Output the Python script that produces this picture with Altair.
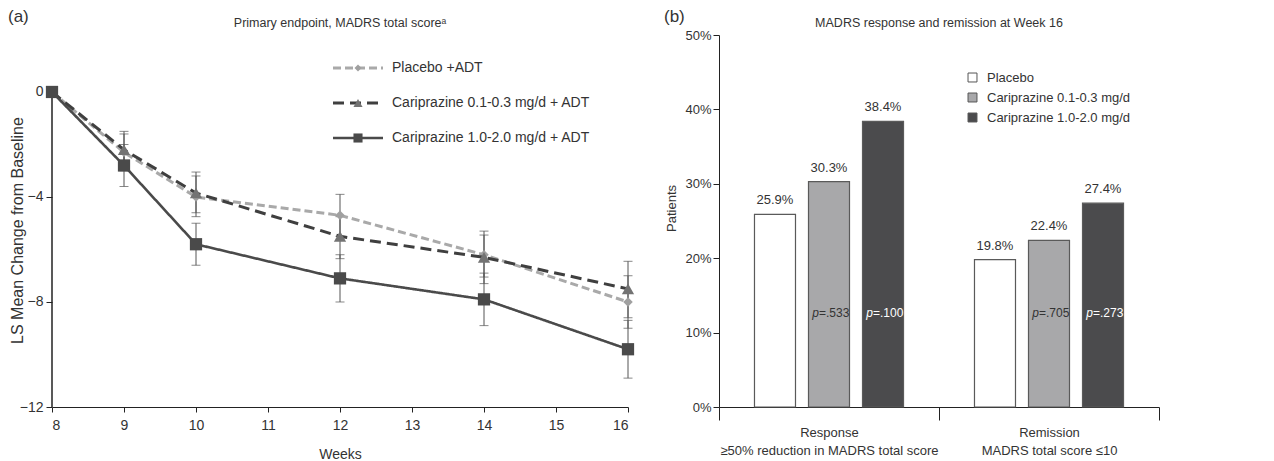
import altair as alt
import pandas as pd

FONT = "Liberation Sans"
TXT = "#333333"
FSA = 14   # panel (a) text size
FSB = 13   # panel (b) text size

# ---------------- Panel (a) data ----------------
weeks = [8, 9, 10, 12, 14, 16]
series_names = ["Placebo +ADT", "Cariprazine 0.1-0.3 mg/d + ADT", "Cariprazine 1.0-2.0 mg/d + ADT"]
placebo_mean = [0.0, -2.3, -4.0, -4.7, -6.2, -8.0]
placebo_upper = [None, -1.6, -3.2, -3.9, -5.3, -7.0]
placebo_lower = [None, -3.0, -4.75, -5.5, -7.05, -9.0]
low_mean = [0.0, -2.2, -3.85, -5.5, -6.3, -7.5]
low_upper = [None, -1.5, -3.05, -4.75, -5.45, -6.45]
low_lower = [None, -2.9, -4.6, -6.35, -7.3, -8.6]
high_mean = [0.0, -2.8, -5.8, -7.1, -7.9, -9.8]
high_upper = [None, -2.0, -5.0, -6.2, -6.9, -8.7]
high_lower = [None, -3.6, -6.6, -8.0, -8.9, -10.9]

# ---------------- Panel (b) data ----------------
outcomes = ["Response|≥50% reduction in MADRS total score", "Remission|MADRS total score ≤10"]
groups = ["Placebo", "Cariprazine 0.1-0.3 mg/d", "Cariprazine 1.0-2.0 mg/d"]
response_pct = [25.9, 30.3, 38.4]
remission_pct = [19.8, 22.4, 27.4]
response_p = ["", ".533", ".100"]
remission_p = ["", ".705", ".273"]
p_label_level = 12.6

# ---------------- styles ----------------
line_colors = ["#a9a9a9", "#3f3f3f", "#4a4a4a"]
marker_colors = ["#a0a0a0", "#737373", "#4a4a4a"]
dashes = [[8, 4], [11, 6], [1, 0]]
widths = [3, 3, 2.6]
shapes = ["diamond", "triangle-up", "square"]
msizes = [90, 150, 150]
bar_fills = ["#ffffff", "#a8a8aa", "#4b4b4d"]
p_colors = ["#333333", "#333333", "#ffffff"]

W1, H = 576, 372
W2 = 440
YTOP = 2.17

rows = []
for name, m, lo, hi in zip(series_names,
                           [placebo_mean, low_mean, high_mean],
                           [placebo_lower, low_lower, high_lower],
                           [placebo_upper, low_upper, high_upper]):
    for w, a, b, c in zip(weeks, m, lo, hi):
        rows.append({"week": w, "series": name, "mean": a, "lower": b, "upper": c})
df_a = pd.DataFrame(rows)

xa = alt.X("week:Q", scale=alt.Scale(domain=[8, 16], nice=False),
           axis=alt.Axis(values=list(range(8, 17)), title="Weeks", grid=False, tickSize=5,
                         labelPadding=6, titlePadding=15, domainColor="#222", tickColor="#222",
                         labelFontSize=FSA, titleFontSize=FSA))
ya = alt.Y("mean:Q", scale=alt.Scale(domain=[-12, YTOP], nice=False, zero=False),
           axis=alt.Axis(values=[0, -4, -8, -12], title="LS Mean Change from Baseline", grid=False,
                         domain=False, tickSize=6, tickColor="#222", labelPadding=3,
                         labelFontSize=FSA, titleFontSize=16,
                         titleX=-35, titleY=195, titleBaseline="middle", titleAngle=-90))

layers_a = []
layers_a.append(alt.Chart(pd.DataFrame({"a": [0], "b": [-12]})).mark_rule(color="#222", strokeWidth=1.5)
                .encode(x=alt.value(0), y=alt.Y("a:Q", scale=alt.Scale(domain=[-12, YTOP], nice=False)), y2="b:Q"))
for i, name in enumerate(series_names):
    err = df_a[df_a.series == name].dropna()
    layers_a.append(alt.Chart(err).mark_rule(color="#555", strokeWidth=1)
                    .encode(x=xa, y=alt.Y("lower:Q"), y2="upper:Q"))
    layers_a.append(alt.Chart(err).mark_tick(color="#555", thickness=1, size=9, orient="horizontal")
                    .encode(x=xa, y=alt.Y("lower:Q")))
    layers_a.append(alt.Chart(err).mark_tick(color="#555", thickness=1, size=9, orient="horizontal")
                    .encode(x=xa, y=alt.Y("upper:Q")))
for i, name in enumerate(series_names):
    sub = df_a[df_a.series == name]
    layers_a.append(alt.Chart(sub).mark_line(color=line_colors[i], strokeDash=dashes[i], strokeWidth=widths[i])
                    .encode(x=xa, y=ya))
    layers_a.append(alt.Chart(sub).mark_point(shape=shapes[i], filled=True, opacity=1, color=marker_colors[i],
                                              size=msizes[i])
                    .encode(x=xa, y=alt.Y("mean:Q")))

# legend (panel a)
leg_y = [33, 68, 103]
leg_df = pd.DataFrame({"series": series_names})
for i, name in enumerate(series_names):
    d = leg_df.iloc[[i]]
    layers_a.append(alt.Chart(d).mark_rule(color=line_colors[i], strokeDash=dashes[i], strokeWidth=widths[i])
                    .encode(x=alt.value(281), x2=alt.value(331), y=alt.value(leg_y[i])))
    layers_a.append(alt.Chart(d).mark_point(shape=shapes[i], filled=True, opacity=1, color=marker_colors[i],
                                            size=msizes[i] * 0.55)
                    .encode(x=alt.value(306), y=alt.value(leg_y[i])))
    layers_a.append(alt.Chart(d).mark_text(align="left", baseline="middle", fontSize=FSA, font=FONT, color=TXT)
                    .encode(x=alt.value(340), y=alt.value(leg_y[i]), text="series:N"))

title_df = pd.DataFrame({"t": ["Primary endpoint, MADRS total scoreᵃ"], "p": ["(a)"]})
layers_a.append(alt.Chart(title_df).mark_text(align="center", baseline="middle", fontSize=12.5, font=FONT, color=TXT)
                .encode(x=alt.value(W1 / 2), y=alt.value(-12), text="t:N"))
layers_a.append(alt.Chart(title_df).mark_text(align="left", baseline="middle", fontSize=17, font=FONT, color=TXT)
                .encode(x=alt.value(-44), y=alt.value(-18), text="p:N"))

left = alt.layer(*layers_a).properties(width=W1, height=H)

# ---------------- Panel (b) ----------------
rows_b = []
for o, vals, ps in zip(outcomes, [response_pct, remission_pct], [response_p, remission_p]):
    for g, v, p, pc in zip(groups, vals, ps, p_colors):
        rows_b.append({"outcome": o, "group": g, "pct": v, "label": f"{v:.1f}%",
                       "prest": ("=" + p) if p else "", "pitalic": "p" if p else "", "pcol": pc,
                       "plevel": p_label_level})
df_b = pd.DataFrame(rows_b)

xb = alt.X("outcome:N", sort=outcomes, scale=alt.Scale(paddingInner=0, paddingOuter=0),
           axis=alt.Axis(title=None, labelAngle=0, labelExpr="split(datum.label, '|')", tickBand="extent",
                         tickSize=13, labelPadding=6, labelLineHeight=18, labelLimit=0,
                         domainColor="#222", tickColor="#222", labelFontSize=FSB))
xo = alt.XOffset("group:N", sort=groups, scale=alt.Scale(paddingInner=0.2407, paddingOuter=0.657))
yb = alt.Y("pct:Q", scale=alt.Scale(domain=[0, 50], nice=False),
           axis=alt.Axis(values=[0, 10, 20, 30, 40, 50], labelExpr="datum.value + '%'", title="Patients",
                         grid=False, tickSize=6, labelPadding=2, domainColor="#222", tickColor="#222",
                         labelFontSize=FSB, titleFontSize=FSB,
                         titleX=-48, titleY=173, titleBaseline="middle", titleAngle=-90))

bars = alt.Chart(df_b).mark_bar(stroke="#5a5a5a", strokeWidth=1.2).encode(
    x=xb, xOffset=xo, y=yb,
    fill=alt.Fill("group:N", sort=groups, scale=alt.Scale(domain=groups, range=bar_fills),
                  legend=alt.Legend(title=None, orient="none", legendX=914, legendY=36, symbolType="square",
                                    symbolSize=80, symbolStrokeColor="#555", symbolStrokeWidth=1,
                                    labelFontSize=FSB, labelFont=FONT, labelColor=TXT, rowPadding=6,
                                    labelOffset=8)))
vlabels = alt.Chart(df_b).mark_text(baseline="bottom", dy=-7, fontSize=FSB, font=FONT, color=TXT).encode(
    x=xb, xOffset=xo, y=alt.Y("pct:Q"), text="label:N")
pit = alt.Chart(df_b).mark_text(align="right", baseline="middle", dx=-10, fontSize=12, font=FONT,
                                fontStyle="italic").encode(
    x=xb, xOffset=xo, y=alt.Y("plevel:Q"), text="pitalic:N", color=alt.Color("pcol:N", scale=None))
prest = alt.Chart(df_b).mark_text(align="left", baseline="middle", dx=-10, fontSize=12, font=FONT).encode(
    x=xb, xOffset=xo, y=alt.Y("plevel:Q"), text="prest:N", color=alt.Color("pcol:N", scale=None))

title_b = pd.DataFrame({"t": ["MADRS response and remission at Week 16"], "p": ["(b)"]})
tb = alt.Chart(title_b).mark_text(align="center", baseline="middle", fontSize=12.5, font=FONT, color=TXT).encode(
    x=alt.value(W2 / 2), y=alt.value(-12), text="t:N")
pb = alt.Chart(title_b).mark_text(align="left", baseline="middle", fontSize=17, font=FONT, color=TXT).encode(
    x=alt.value(-55), y=alt.value(-18), text="p:N")

right = alt.layer(bars, vlabels, pit, prest, tb, pb).properties(width=W2, height=H)

chart = alt.hconcat(left, right, spacing=29).properties(padding=0).configure_view(stroke=None).configure_axis(
    labelFont=FONT, titleFont=FONT, labelColor=TXT, titleColor=TXT,
    titleFontWeight="normal").configure_legend(labelFont=FONT)

chart.save("out.html", embed_options={"renderer": "svg", "actions": False})
